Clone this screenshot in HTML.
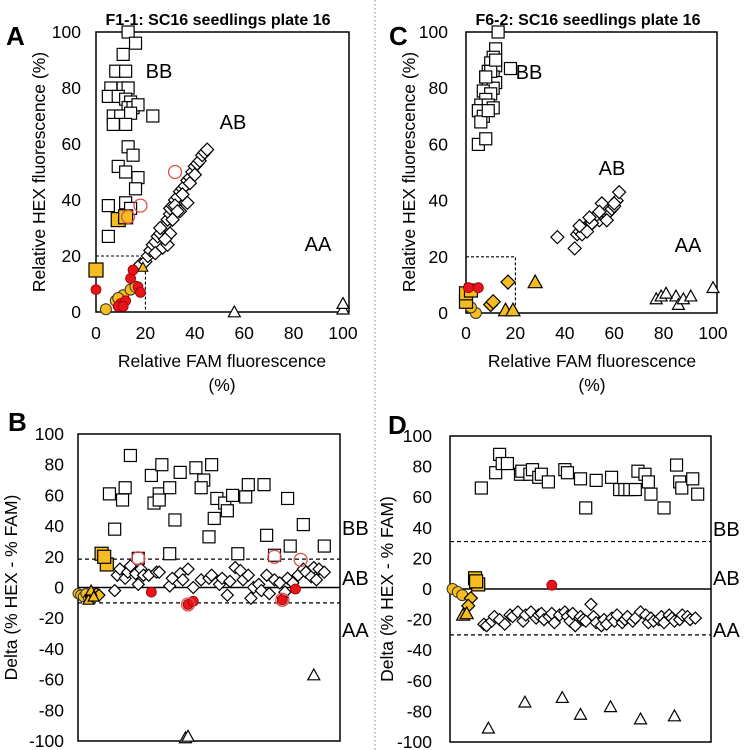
<!DOCTYPE html>
<html><head><meta charset="utf-8">
<style>
html,body{margin:0;padding:0;background:#fff;}
svg{display:block;font-family:"Liberation Sans",Arial,sans-serif;}
</style></head>
<body>
<svg id="fig" width="750" height="750" viewBox="0 0 750 750" xmlns="http://www.w3.org/2000/svg">
<line x1="375" y1="0" x2="375" y2="750" stroke="#888" stroke-width="1" stroke-dasharray="1.5,2.5"/>
</svg>
<script>
// ---------- Panel A data (FAM %, HEX %) ----------
const aSqX=[13,16,11,8,12,6,11,13,5,9,12,14,13,15,17,7,10,14,23,7,12,13,15,9,12,17,16,5,12,14,5];
const aSqY=[100,96,92,86,86,80,80,80,77,77,76,75,73,73,74,70,70,71,70,67,67,59,56,52,50,48,44,38,39,37,27];
const aYSqX=[9,12,0];
const aYSqY=[33,34,15];
const aDiX=[18,20,21,22,23,24,25,26,27,28,29,30,30,31,32,33,34,35,36,37,38,39,40,41,42,43,44,45,24,27,29,30,32,34,35,37,38,40,26,28,31,33];
const aDiY=[17,18,20,22,24,25,27,28,30,31,33,35,37,38,40,41,43,44,45,47,48,50,52,53,54,56,57,58,21,23,24,28,38,36,42,39,46,49,30,26,33,36];
const aRdX=[0,10,12,14,15,17,18,9,11];
const aRdY=[8,3,4,12,15,9,7,2,2];
const aYcX=[4,8,11,14,16,9];
const aYcY=[1,4,6,8,9,5];
const aOcX=[32,18,13];
const aOcY=[50,38,34];
const aTrX=[56,100,100];
const aTrY=[0,1,3];
const aYTrX=[19];
const aYTrY=[16];
// ---------- Panel C data ----------
const cSqX=[13,12,11,10,12,9,11,8,10,12,9,11,7,10,8,6,9,11,5,7,6,9,5,8,10,18,12,8];
const cSqY=[100,94,91,89,88,86,84,84,82,82,80,80,79,78,76,74,74,73,72,70,68,72,60,62,86,87,90,84];
const cDiX=[37,44,45,46,47,48,49,50,51,52,53,54,55,56,57,58,59,60,61,62,47,49,51,53,55,46,50,54,57,60];
const cDiY=[27,23,28,29,30,30,31,31,32,33,34,33,35,36,37,36,37,38,40,43,28,29,32,35,39,31,34,36,33,39];
const cTrX=[77,79,85,86,88,91,100,81];
const cTrY=[5,6,6,3,5,6,9,7];
const cYTrX=[16,19,28];
const cYTrY=[1,1,11];
const cYDiX=[17,10,11];
const cYDiY=[11,3,4];
const cYSqX=[0,0,2];
const cYSqY=[4,7,8];
const cRdX=[1,5];
const cRdY=[9,9];
const cYcX=[4,2];
const cYcY=[0,2];
// ---------- Panel B data (sample index, delta) ----------
const bSqI=[12,18,17,14,20,28,31,32,29,31,35,37,39,45,48,47,51,50,53,52,56,57,59,64,65,71,72,80,81,86,94,35,61,75,23];
const bSqV=[61,65,57,38,86,73,61,80,55,57,65,44,75,78,70,65,80,33,58,45,55,50,60,59,67,67,34,58,27,41,27,22,22,21,19];
const bDiI=[14,15,16,18,19,20,22,23,24,25,27,30,31,35,36,39,40,42,44,47,50,51,54,55,57,58,60,62,63,65,66,67,69,70,72,73,75,77,78,79,80,82,84,86,87,89,90,91,92,94];
const bDiV=[-2,8,12,6,10,14,9,2,12,8,8,10,10,1,6,9,5,12,0,5,6,8,2,6,-5,4,13,11,5,8,-7,0,2,-2,8,-4,5,3,-6,-3,6,3,8,12,10,7,13,5,12,10];
const bRdI=[28,42,44,78,83];
const bRdV=[-3,-11,-9,-8,-1];
const bOcI=[23,42,75,85,78];
const bOcV=[19,-11,20,18,-8];
const bTrI=[90,41,42];
const bTrV=[-57,-98,-97];
const bYSqI=[9,11,10];
const bYSqV=[22,15,20];
const bYcI=[0,1,2,3,4];
const bYcV=[-4,-5,-6,-4,-7];
const bYDiI=[5,7,8];
const bYDiV=[-6,-4,-5];
const bYTrI=[4,5,6];
const bYTrV=[-8,-2,-6];
// ---------- Panel D data ----------
const dSqI=[12,17.5,19,20,22,27,27.5,30.6,31.6,34,35,37.7,44,45,50,56,61.9,65,67,68.9,71,72,74.7,76,77,82,52,86.8,88,88.8,93,94.9];
const dSqV=[66,76,88,82,82,75,77,75,78,73,75,70,78,76,72,71,73,65,65,65,65,77,75,70,62,53,53,81,70,66,72,62];
const dDiI=[13,14,16,17,19,21,23,24,26,28,29,31,33,34,35,36,38,39,40,42,44,45,46,47,48,50,51,52,54,55,56,58,59,60,62,63,64,66,67,68,70,71,73,75,76,77,78,80,81,82,84,85,86,88,89,91,92,94];
const dDiV=[-23,-24,-21,-18,-20,-23,-17,-18,-15,-21,-17,-15,-19,-17,-16,-20,-18,-16,-22,-17,-15,-18,-21,-16,-24,-18,-20,-21,-10,-18,-22,-24,-20,-23,-19,-21,-17,-22,-20,-18,-21,-19,-15,-17,-22,-19,-21,-20,-18,-22,-17,-19,-21,-20,-17,-18,-20,-19];
const dTrI=[14.7,28.7,43,50,61.5,73,86];
const dTrV=[-91,-74,-71,-82,-77,-85,-83];
const dRdI=[39];
const dRdV=[2.5];
const dYSqI=[10.8,9.6,10];
const dYSqV=[3,7,5];
const dYcI=[1,3,4.7];
const dYcV=[0,-2,-4];
const dYDiI=[8,7];
const dYDiV=[-6,-11];
const dYTrI=[5,6.4];
const dYTrV=[-17,-16];
const scatterTicks=[0,20,40,60,80,100];
const deltaTicks=[100,80,60,40,20,0,-20,-40,-60,-80,-100];

const NS="http://www.w3.org/2000/svg";
const svg=document.getElementById('fig');
function mk(tag,attrs,parent){const e=document.createElementNS(NS,tag);for(const k in attrs)e.setAttribute(k,attrs[k]);(parent||svg).appendChild(e);return e;}
function txt(s,x,y,size,opts,parent){opts=opts||{};const t=mk('text',{x:x,y:y,'font-size':size,'text-anchor':opts.anchor||'middle','font-weight':opts.bold?'bold':'normal',fill:'#000'},parent);if(opts.rot)t.setAttribute('transform','rotate(-90 '+x+' '+y+')');t.textContent=s;return t;}
const YEL='#f5bd1f', RED='#e8141b';
function marker(g,shape,x,y,s,fill,stroke,sw){
 let e;
 if(shape==='sq')e=mk('rect',{x:x-s/2,y:y-s/2,width:s,height:s,fill:fill,stroke:stroke,'stroke-width':sw},g);
 else if(shape==='di'){const h=s/2;e=mk('polygon',{points:`${x},${y-h} ${x+h},${y} ${x},${y+h} ${x-h},${y}`,fill:fill,stroke:stroke,'stroke-width':sw},g);}
 else if(shape==='tr'){const h=s/2;e=mk('polygon',{points:`${x},${y-h} ${x+h},${y+h*0.8} ${x-h},${y+h*0.8}`,fill:fill,stroke:stroke,'stroke-width':sw},g);}
 else e=mk('circle',{cx:x,cy:y,r:s/2,fill:fill,stroke:stroke,'stroke-width':sw},g);
 return e;
}
function series(g,name,xs,ys,sx,sy,shape,s,fill,stroke,sw){
 const sg=mk('g',{},g);
 
 
 for(let i=0;i<xs.length;i++){
  const m=marker(sg,shape,sx(xs[i]),sy(ys[i]),s,fill,stroke,sw);
  
  
 }
}
function scatterPanel(p){
 const g=mk('g',{});
 
 
 const sx=v=>p.x0+(p.x100-p.x0)*v/100, sy=v=>p.y0+(p.y100-p.y0)*v/100;
 mk('rect',{x:p.L,y:p.T,width:p.R-p.L,height:p.B-p.T,fill:'none',stroke:'#000','stroke-width':1.5},g);
 mk('polyline',{points:`${p.L},${sy(20)} ${sx(20)},${sy(20)} ${sx(20)},${p.B}`,fill:'none',stroke:'#000','stroke-width':1.1,'stroke-dasharray':'3,2'},g);
 scatterTicks.forEach(t=>{txt(String(t),sx(t),339,17.5,{},g);txt(String(t),p.ytx,sy(t)+6,17.5,{anchor:'end'},g);});
 txt(p.title,p.tx,25,16,{bold:true},g);
 txt(p.letter,p.lx,45,26,{bold:true,anchor:'start'},g);
 txt('Relative HEX fluorescence (%)',p.yt,172,17.5,{rot:true},g);
 txt('Relative FAM fluorescence',p.xtx,367,17.5,{},g);
 txt('(%)',p.xtx,391,17.5,{},g);
 p.labels.forEach(l=>txt(l[0],l[1],l[2],20,{},g));
 p.draw(g,sx,sy);
}
function deltaPanel(p){
 const g=mk('g',{});
 
 
 const sx=i=>p.L+(p.R-p.L)*i/100, sy=v=>p.T+(p.B-p.T)*(100-v)/200;
 mk('rect',{x:p.L,y:p.T,width:p.R-p.L,height:p.B-p.T,fill:'none',stroke:'#000','stroke-width':1.5},g);
 mk('line',{x1:p.L,x2:p.R,y1:sy(0),y2:sy(0),stroke:'#000','stroke-width':1.4},g);
 p.dash.forEach(d=>mk('line',{x1:p.L,x2:p.R,y1:sy(d),y2:sy(d),stroke:'#000','stroke-width':1.2,'stroke-dasharray':'4,3'},g));
 deltaTicks.forEach(t=>txt(String(t),p.ytx,sy(t)+6,17.5,{anchor:'end'},g));
 txt(p.letter,p.lx,p.ly,26,{bold:true,anchor:'start'},g);
 txt('Delta (% HEX - % FAM)',p.yt,(p.T+p.B)/2,17.5,{rot:true},g);
 p.labels.forEach(l=>txt(l[0],p.R+2,l[1],20,{anchor:'start'},g));
 p.draw(g,sx,sy);
}
scatterPanel({name:'panel-a',L:96,R:349,T:32,B:312,x0:96,x100:343,y0:312,y100:32,ytx:81,title:'F1-1: SC16 seedlings plate 16',tx:218,letter:'A',lx:6,yt:45,xtx:222,
 labels:[['BB',159,78],['AB',233,129],['AA',318,251]],
 draw:(g,sx,sy)=>{
  series(g,'bb-squares',aSqX,aSqY,sx,sy,'sq',12,'#fff','#000',1.2);
  series(g,'ab-diamonds',aDiX,aDiY,sx,sy,'di',13,'#fff','#000',1.2);
  series(g,'aa-triangles',aTrX,aTrY,sx,sy,'tr',12,'#fff','#000',1.2);
  series(g,'yellow-squares',aYSqX,aYSqY,sx,sy,'sq',14,YEL,'#000',1.2);
  series(g,'yellow-circles',aYcX,aYcY,sx,sy,'ci',11,YEL,'#333',1);
  series(g,'yellow-triangles',aYTrX,aYTrY,sx,sy,'tr',10,YEL,'#000',1);
  series(g,'red-circles',aRdX,aRdY,sx,sy,'ci',10,RED,'#900',0.8);
  series(g,'red-open-circles',aOcX,aOcY,sx,sy,'ci',13,'none','#e05050',1.3);
 }});
scatterPanel({name:'panel-c',L:466,R:717,T:32,B:313,x0:466,x100:713,y0:313,y100:32,ytx:448,title:'F6-2: SC16 seedlings plate 16',tx:588,letter:'C',lx:389,yt:415,xtx:592,
 labels:[['BB',529,79],['AB',612,175],['AA',688,252]],
 draw:(g,sx,sy)=>{
  series(g,'bb-squares',cSqX,cSqY,sx,sy,'sq',12,'#fff','#000',1.2);
  series(g,'ab-diamonds',cDiX,cDiY,sx,sy,'di',13,'#fff','#000',1.2);
  series(g,'aa-triangles',cTrX,cTrY,sx,sy,'tr',12,'#fff','#000',1.2);
  series(g,'yellow-circles',cYcX,cYcY,sx,sy,'ci',11,YEL,'#333',1);
  series(g,'yellow-squares',cYSqX,cYSqY,sx,sy,'sq',13,YEL,'#000',1.2);
  series(g,'yellow-diamonds',cYDiX,cYDiY,sx,sy,'di',14,YEL,'#000',1.2);
  series(g,'yellow-triangles',cYTrX,cYTrY,sx,sy,'tr',14,YEL,'#000',1.2);
  series(g,'red-circles',cRdX,cRdY,sx,sy,'ci',10,RED,'#900',0.8);
 }});
deltaPanel({name:'panel-b',L:78,R:340,T:434,B:741,ytx:64,letter:'B',lx:8,ly:431,yt:17,dash:[18.5,-10],
 labels:[['BB',535],['AB',585],['AA',637]],
 draw:(g,sx,sy)=>{
  series(g,'bb-squares',bSqI,bSqV,sx,sy,'sq',12,'#fff','#000',1.2);
  series(g,'ab-diamonds',bDiI,bDiV,sx,sy,'di',12,'#fff','#000',1.2);
  series(g,'aa-triangles',bTrI,bTrV,sx,sy,'tr',12,'#fff','#000',1.2);
  series(g,'yellow-squares',bYSqI,bYSqV,sx,sy,'sq',13,YEL,'#000',1.2);
  series(g,'yellow-circles',bYcI,bYcV,sx,sy,'ci',10,YEL,'#333',1);
  series(g,'yellow-diamonds',bYDiI,bYDiV,sx,sy,'di',12,YEL,'#000',1.2);
  series(g,'yellow-triangles',bYTrI,bYTrV,sx,sy,'tr',11,YEL,'#000',1.2);
  series(g,'red-circles',bRdI,bRdV,sx,sy,'ci',10,RED,'#900',0.8);
  series(g,'red-open-circles',bOcI,bOcV,sx,sy,'ci',13,'none','#e05050',1.3);
 }});
deltaPanel({name:'panel-d',L:450,R:711,T:436,B:742,ytx:432,letter:'D',lx:388,ly:434,yt:393,dash:[31,-30],
 labels:[['BB',536],['AB',585],['AA',637]],
 draw:(g,sx,sy)=>{
  series(g,'bb-squares',dSqI,dSqV,sx,sy,'sq',12,'#fff','#000',1.2);
  series(g,'ab-diamonds',dDiI,dDiV,sx,sy,'di',12,'#fff','#000',1.2);
  series(g,'aa-triangles',dTrI,dTrV,sx,sy,'tr',12,'#fff','#000',1.2);
  series(g,'yellow-circles',dYcI,dYcV,sx,sy,'ci',11,YEL,'#333',1);
  series(g,'yellow-squares',dYSqI,dYSqV,sx,sy,'sq',13,YEL,'#000',1.2);
  series(g,'yellow-diamonds',dYDiI,dYDiV,sx,sy,'di',13,YEL,'#000',1.2);
  series(g,'yellow-triangles',dYTrI,dYTrV,sx,sy,'tr',13,YEL,'#000',1.2);
  series(g,'red-circles',dRdI,dRdV,sx,sy,'ci',10,RED,'#900',0.8);
 }});
</script>
</body></html>
